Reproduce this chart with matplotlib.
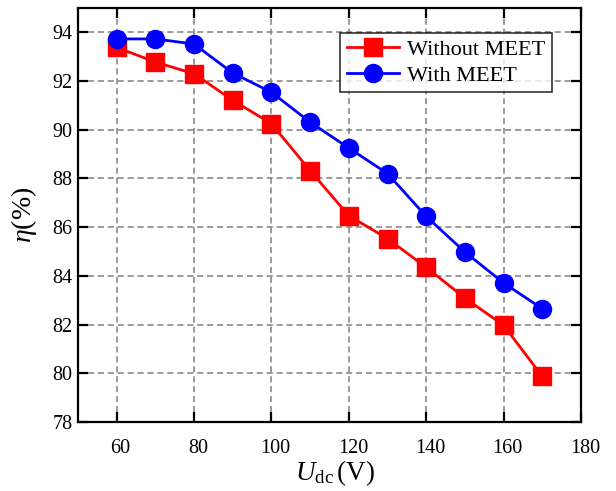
"""
efficiency vs dc voltage, with and without MEET
outputs: out.png
"""

import matplotlib.pyplot as plt
from matplotlib.transforms import ScaledTranslation

# -- DATA --
u_dc = [60, 70, 80, 90, 100, 110, 120, 130, 140, 150, 160, 170]
eta_without = [93.38, 92.78, 92.30, 91.21, 90.25, 88.32, 86.47, 85.53, 84.35, 83.09, 81.97, 79.87]
eta_with = [93.73, 93.73, 93.52, 92.33, 91.54, 90.31, 89.25, 88.20, 86.44, 84.98, 83.71, 82.65]

x_ticks = [60, 80, 100, 120, 140, 160, 180]
y_ticks = [78, 80, 82, 84, 86, 88, 90, 92, 94]

# -- PLOT --
plt.rcParams["font.family"] = ["Liberation Serif", "DejaVu Serif"]
plt.rcParams["mathtext.fontset"] = "custom"
plt.rcParams["mathtext.rm"] = "Liberation Serif"
plt.rcParams["mathtext.it"] = "Liberation Serif:italic"

fig = plt.figure(figsize=(6.16, 4.91), dpi=100)
ax = fig.add_axes([0.1266, 0.1405, 0.8166, 0.8432])

ax.plot(u_dc, eta_without, color="#ff0000", linewidth=2.0, marker="s",
        markersize=12.5, label="Without MEET", zorder=3)
ax.plot(u_dc, eta_with, color="#0000ff", linewidth=2.0, marker="o",
        markersize=13, label="With MEET", zorder=4)

ax.set_xlim(50, 180)
ax.set_ylim(78, 95)
ax.set_xticks(x_ticks)
ax.set_yticks(y_ticks)

ax.grid(True, color="#808080", linestyle=(0, (4, 2.5)), linewidth=1.1)
ax.set_axisbelow(True)

ax.tick_params(direction="in", length=7, width=1.6, top=True, right=True,
               labelsize=14.5)
ax.tick_params(axis="x", pad=12)
ax.tick_params(axis="y", pad=4)
for s in ax.spines.values():
    s.set_linewidth(1.6)

# origin-style labels sit a little right of their ticks
shift = ScaledTranslation(4 / 100, 0, fig.dpi_scale_trans)
for lbl in ax.get_xticklabels():
    lbl.set_transform(lbl.get_transform() + shift)

ax.set_xlabel(r"$U_{\rm dc}\,$(V)", fontsize=19.5)
ax.set_ylabel(r"$\eta$(%)", fontsize=20)
ax.xaxis.set_label_coords(0.511, -0.088)
ax.yaxis.set_label_coords(-0.077, 0.5)

leg = ax.legend(loc="upper right", bbox_to_anchor=(0.942, 0.94), fontsize=16,
                frameon=True, fancybox=False, edgecolor="black",
                handlelength=2.35, borderpad=0.3, labelspacing=0.22,
                handletextpad=0.35, borderaxespad=0)
leg.get_frame().set_linewidth(1.2)

plt.savefig("out.png", dpi=100)
